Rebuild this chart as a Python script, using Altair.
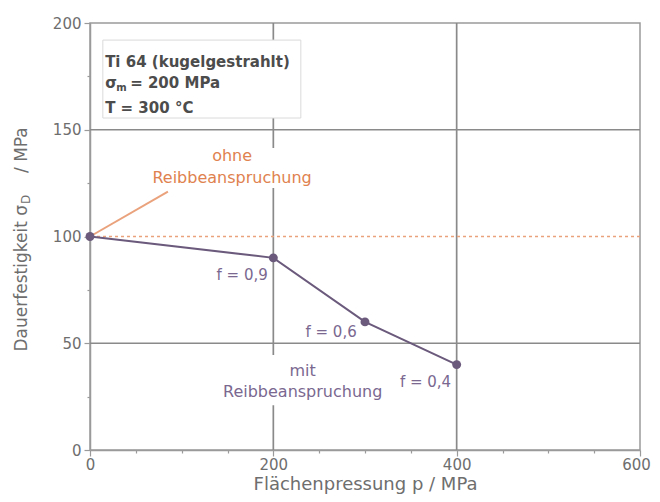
import altair as alt
import pandas as pd

# ---------------- data ----------------
p_values = [0, 200, 300, 400]          # Flächenpressung p / MPa
sigma_values = [100, 90, 60, 40]       # Dauerfestigkeit / MPa (mit Reibbeanspruchung)
ohne_level = 100                       # ohne Reibbeanspruchung

f_labels = ["f = 0,9", "f = 0,6", "f = 0,4"]
f_label_x = [166, 263, 366]
f_label_y = [82, 55.5, 32]

x_grid = [200, 400]
y_grid = [50, 150]
x_ticks = [0, 50, 100, 150, 200, 250, 300, 350, 400, 450, 500, 550, 600]
y_ticks = [0, 25, 50, 75, 100, 125, 150, 175, 200]

leader_x = [0, 85]
leader_y = [100, 121]

ohne_text = ["ohne", "Reibbeanspruchung"]
ohne_text_x = [155, 155]
ohne_text_y = [137.5, 127.5]

mit_text = ["mit", "Reibbeanspruchung"]
mit_text_x = [232, 232]
mit_text_y = [37, 27]

box_x = [14, 230]
box_y = [155.5, 192]
box_line_x = 16.5
box_line_y = [181.7, 171.9, 160.2]

# backgrounds that hide grid lines behind labels
bg_x = [62, 136]
bg_x2 = [253, 327]
bg_y = [122.7, 21]
bg_y2 = [141.5, 44.5]

FONT = "DejaVu Sans"
GRAY = "#9a9a9a"
GRID = "#8a8a8a"
PURPLE = "#6b5a7c"
PURPLE_TXT = "#7a6890"
ORANGE_TXT = "#e0824f"
ORANGE_LINE = "#eaa27c"
TXT = "#6e6e6e"
BOXTXT = "#4c4c4c"

xscale = alt.Scale(domain=[0, 600], nice=False, zero=True)
yscale = alt.Scale(domain=[0, 200], nice=False, zero=True)

xaxis = alt.Axis(
    values=x_ticks,
    labelExpr="datum.value % 200 === 0 ? datum.label : ''",
    tickSize={"condition": {"test": "datum.value % 200 === 0", "value": 6}, "value": 3},
    labelOffset={"condition": {"test": "datum.value === 600", "value": -4}, "value": 0},
    title="Flächenpressung p  /  MPa",
    grid=False, labelFlush=False, labelOverlap=False,
    domainColor=GRAY, domainWidth=1.5, tickColor=GRAY, tickWidth=1.2,
    labelFont=FONT, labelFontSize=15, labelColor=TXT, labelPadding=1,
    titleFont=FONT, titleFontSize=18, titleFontWeight="normal", titleColor=TXT,
    titlePadding=3,
)
yaxis = alt.Axis(
    values=y_ticks,
    labelExpr="datum.value % 50 === 0 ? datum.label : ''",
    tickSize={"condition": {"test": "datum.value % 50 === 0", "value": 6}, "value": 3},
    title=None,
    grid=False, labelFlush=False, labelOverlap=False,
    domainColor=GRAY, domainWidth=1.5, tickColor=GRAY, tickWidth=1.2,
    labelFont=FONT, labelFontSize=15, labelColor=TXT, labelPadding=3,
)


def X(field):
    return alt.X(field, type="quantitative", scale=xscale, axis=xaxis)


def Y(field):
    return alt.Y(field, type="quantitative", scale=yscale, axis=yaxis)


# ---------------- layers ----------------
vgrid = alt.Chart(pd.DataFrame({"x": x_grid})).mark_rule(
    color=GRID, strokeWidth=1.7).encode(x=X("x"))
hgrid = alt.Chart(pd.DataFrame({"y": y_grid})).mark_rule(
    color=GRID, strokeWidth=1.7).encode(y=Y("y"))
ohne = alt.Chart(pd.DataFrame({"y": [ohne_level]})).mark_rule(
    color=ORANGE_LINE, strokeWidth=1.6, strokeDash=[3, 3]).encode(y=Y("y"))

bg = alt.Chart(pd.DataFrame({"x": bg_x, "x2": bg_x2, "y": bg_y, "y2": bg_y2})).mark_rect(
    color="white").encode(x=X("x"), x2="x2", y=Y("y"), y2="y2")
box = alt.Chart(pd.DataFrame({"x": [box_x[0]], "x2": [box_x[1]], "y": [box_y[0]], "y2": [box_y[1]]})).mark_rect(
    fill="white", stroke="#dadada", strokeWidth=1).encode(x=X("x"), x2="x2", y=Y("y"), y2="y2")

leader = alt.Chart(pd.DataFrame({"x": leader_x, "y": leader_y})).mark_line(
    color=ORANGE_LINE, strokeWidth=2).encode(x=X("x"), y=Y("y"))

df = pd.DataFrame({"p": p_values, "s": sigma_values})
line = alt.Chart(df).mark_line(color=PURPLE, strokeWidth=2).encode(x=X("p"), y=Y("s"))
pts = alt.Chart(df).mark_circle(color=PURPLE, opacity=1, size=80).encode(x=X("p"), y=Y("s"))

flab = alt.Chart(pd.DataFrame({"x": f_label_x, "y": f_label_y, "t": f_labels})).mark_text(
    font=FONT, fontSize=15, color=PURPLE_TXT, baseline="middle").encode(x=X("x"), y=Y("y"), text="t")

ohne_lab = alt.Chart(pd.DataFrame({"x": ohne_text_x, "y": ohne_text_y, "t": ohne_text})).mark_text(
    font=FONT, fontSize=16, color=ORANGE_TXT, baseline="middle").encode(x=X("x"), y=Y("y"), text="t")
mit_lab = alt.Chart(pd.DataFrame({"x": mit_text_x, "y": mit_text_y, "t": mit_text})).mark_text(
    font=FONT, fontSize=16, color=PURPLE_TXT, baseline="middle").encode(x=X("x"), y=Y("y"), text="t")

box_df = pd.DataFrame({"x": [box_line_x] * 3, "y": box_line_y,
                       "t": ["Ti 64 (kugelgestrahlt)", "σ", "T = 300 °C"]})
box_txt = alt.Chart(box_df).mark_text(
    font=FONT, fontSize=15, fontWeight="bold", color=BOXTXT, align="left", baseline="middle").encode(
    x=X("x"), y=Y("y"), text="t")
box_sub = alt.Chart(pd.DataFrame({"x": [box_line_x], "y": [box_line_y[1]], "t": ["m"]})).mark_text(
    font=FONT, fontSize=10, fontWeight="bold", color=BOXTXT, align="left", baseline="middle", dx=11, dy=5).encode(
    x=X("x"), y=Y("y"), text="t")
box_rest = alt.Chart(pd.DataFrame({"x": [box_line_x], "y": [box_line_y[1]], "t": ["= 200 MPa"]})).mark_text(
    font=FONT, fontSize=15, fontWeight="bold", color=BOXTXT, align="left", baseline="middle", dx=25).encode(
    x=X("x"), y=Y("y"), text="t")

# y axis title with subscript (rotated text pieces)
yt1 = alt.Chart(pd.DataFrame({"t": ["Dauerfestigkeit σ"]})).mark_text(
    font=FONT, fontSize=17, color=TXT, angle=270, align="right", baseline="middle").encode(
    x=alt.value(-68), y=alt.value(182), text="t")
yt2 = alt.Chart(pd.DataFrame({"t": ["D"]})).mark_text(
    font=FONT, fontSize=12, color=TXT, angle=270, align="left", baseline="middle", dx=1, dy=4).encode(
    x=alt.value(-68), y=alt.value(182), text="t")
yt3 = alt.Chart(pd.DataFrame({"t": ["/  MPa"]})).mark_text(
    font=FONT, fontSize=17, color=TXT, angle=270, align="left", baseline="middle").encode(
    x=alt.value(-68), y=alt.value(150), text="t")

chart = alt.layer(
    vgrid, hgrid, ohne, bg, box, leader, line, pts, flab, ohne_lab, mit_lab,
    box_txt, box_sub, box_rest, yt1, yt2, yt3,
).properties(
    width=550, height=427,
    autosize=alt.AutoSizeParams(type="none"),
    padding={"left": 82, "top": 15, "right": 12, "bottom": 44},
    background="white",
).configure_view(
    stroke=GRAY, strokeWidth=1.5,
)

chart.save("out.html", embed_options={"renderer": "svg", "actions": False})
